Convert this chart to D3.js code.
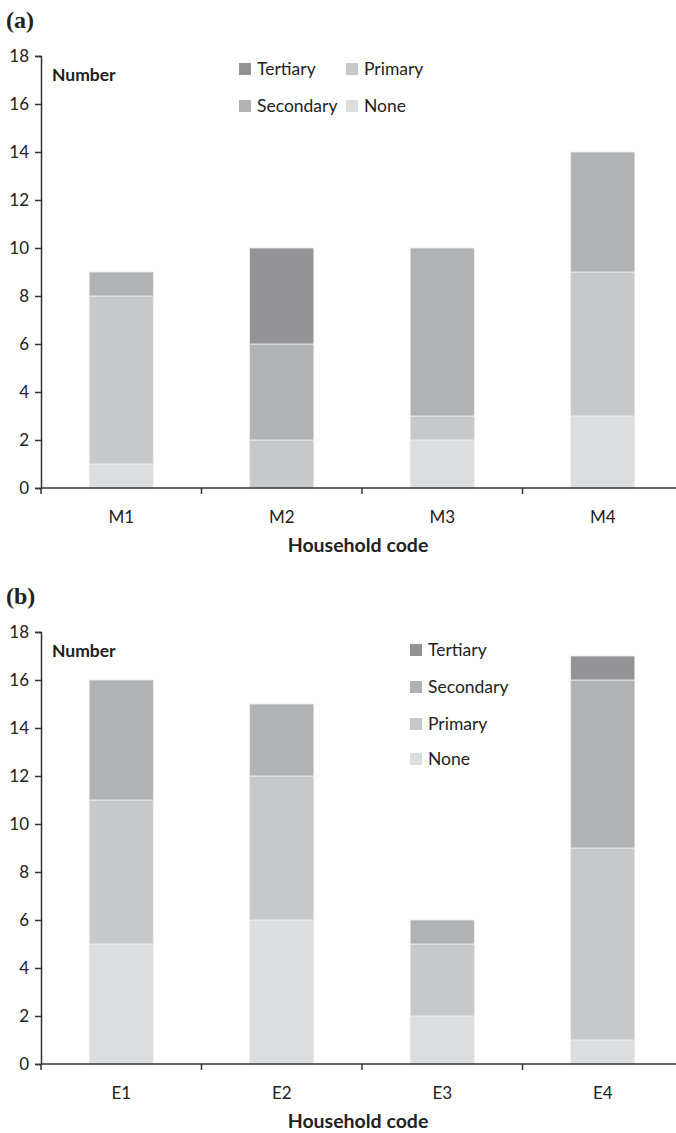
<!DOCTYPE html>
<html>
<head>
<meta charset="utf-8">
<script src="https://cdn.jsdelivr.net/npm/d3@7"></script>
<style>
  html, body { margin: 0; padding: 0; background: #fff; }
  svg { display: block; font-family: Lato, "Open Sans", sans-serif; }
</style>
</head>
<body>
<div id="chart"></div>
<script>
// series + values
const seriesNames = ["None", "Primary", "Secondary", "Tertiary"];
const seriesColors = ["#dcdddf", "#c7c8ca", "#b1b2b5", "#939396"];

const catsA = ["M1", "M2", "M3", "M4"];
const noneA = [1, 0, 2, 3];
const primaryA = [7, 2, 1, 6];
const secondaryA = [1, 4, 7, 5];
const tertiaryA = [0, 4, 0, 0];

const catsB = ["E1", "E2", "E3", "E4"];
const noneB = [5, 6, 2, 1];
const primaryB = [6, 6, 3, 8];
const secondaryB = [5, 3, 1, 7];
const tertiaryB = [0, 0, 0, 1];

const yTicks = [0, 2, 4, 6, 8, 10, 12, 14, 16, 18];

const width = 676, height = 1133;
const svg = d3.select("#chart").append("svg")
    .attr("width", width)
    .attr("height", height);

const color = d3.scaleOrdinal().domain(seriesNames).range(seriesColors);

function drawPanel(opts) {
    const rows = opts.cats.map((c, i) => ({
        cat: c,
        None: opts.none[i],
        Primary: opts.primary[i],
        Secondary: opts.secondary[i],
        Tertiary: opts.tertiary[i]
    }));

    const x = d3.scaleBand().domain(opts.cats).range([41, 683]).padding(0);
    const y = d3.scaleLinear().domain([0, 18]).range([opts.bottom, opts.bottom - 432]);
    const barW = x.bandwidth() * 0.4;

    const stacked = d3.stack().keys(seriesNames)(rows);

    const g = svg.append("g");

    g.selectAll("g.layer")
        .data(stacked)
        .join("g")
        .attr("class", "layer")
        .attr("fill", d => color(d.key))
        .selectAll("rect")
        .data(d => d.filter(s => s[1] > s[0]))
        .join("rect")
        .attr("x", d => x(d.data.cat) + (x.bandwidth() - barW) / 2)
        .attr("y", d => y(d[1]))
        .attr("width", barW)
        .attr("height", d => y(d[0]) - y(d[1]))
        .attr("stroke", "#eeeeef")
        .attr("stroke-width", 0.8);

    // y axis
    const yAx = g.append("g")
        .attr("transform", "translate(41,0)")
        .call(d3.axisLeft(y).tickValues(yTicks).tickSize(6).tickPadding(6).tickSizeOuter(6));
    yAx.select(".domain").attr("stroke", "#333").attr("stroke-width", 1.5);
    yAx.selectAll(".tick line").attr("stroke", "#333").attr("stroke-width", 1.5);
    yAx.selectAll(".tick text").attr("font-size", 17).attr("fill", "#222")
        .attr("font-family", "Lato, sans-serif");

    // x axis: ticks on band boundaries
    const xAx = g.append("g")
        .attr("transform", `translate(0,${opts.bottom})`);
    xAx.append("line")
        .attr("x1", 41).attr("x2", 683)
        .attr("stroke", "#333").attr("stroke-width", 1.5);
    xAx.selectAll("line.bt")
        .data(opts.cats)
        .join("line")
        .attr("class", "bt")
        .attr("x1", d => x(d)).attr("x2", d => x(d))
        .attr("y1", 0).attr("y2", 6)
        .attr("stroke", "#333").attr("stroke-width", 1.5);
    xAx.selectAll("text.cat")
        .data(opts.cats)
        .join("text")
        .attr("class", "cat")
        .attr("x", d => x(d) + x.bandwidth() / 2)
        .attr("y", 35)
        .attr("text-anchor", "middle")
        .attr("font-size", 17)
        .attr("fill", "#222")
        .text(d => d);

    g.append("text")
        .attr("x", 358)
        .attr("y", opts.bottom + 64)
        .attr("text-anchor", "middle")
        .attr("font-size", 19.5)
        .attr("font-weight", "bold")
        .attr("fill", "#222")
        .text("Household code");

    g.append("text")
        .attr("x", 52)
        .attr("y", opts.bottom - 407)
        .attr("font-size", 17.5)
        .attr("font-weight", "bold")
        .attr("fill", "#222")
        .text("Number");

    g.append("text")
        .attr("x", 6)
        .attr("y", opts.bottom - 460)
        .attr("font-family", "'Liberation Serif', 'Times New Roman', serif")
        .attr("font-size", 24)
        .attr("font-weight", "bold")
        .attr("fill", "#222")
        .text(opts.label);

    const leg = g.append("g")
        .selectAll("g")
        .data(opts.legend)
        .join("g")
        .attr("transform", d => `translate(${d.x},${opts.bottom - d.dy})`);
    leg.append("rect")
        .attr("x", 0).attr("y", -6)
        .attr("width", 12).attr("height", 12)
        .attr("fill", d => color(d.key));
    leg.append("text")
        .attr("x", 18).attr("y", 6)
        .attr("font-size", 17.5)
        .attr("fill", "#222")
        .text(d => d.key);
}

drawPanel({
    label: "(a)",
    bottom: 488,
    cats: catsA, none: noneA, primary: primaryA, secondary: secondaryA, tertiary: tertiaryA,
    legend: [
        { key: "Tertiary", x: 239, dy: 419 },
        { key: "Primary", x: 346, dy: 419 },
        { key: "Secondary", x: 239, dy: 382 },
        { key: "None", x: 346, dy: 382 }
    ]
});

drawPanel({
    label: "(b)",
    bottom: 1064,
    cats: catsB, none: noneB, primary: primaryB, secondary: secondaryB, tertiary: tertiaryB,
    legend: [
        { key: "Tertiary", x: 410, dy: 414 },
        { key: "Secondary", x: 410, dy: 377 },
        { key: "Primary", x: 410, dy: 340 },
        { key: "None", x: 410, dy: 305 }
    ]
});
</script>
</body>
</html>
